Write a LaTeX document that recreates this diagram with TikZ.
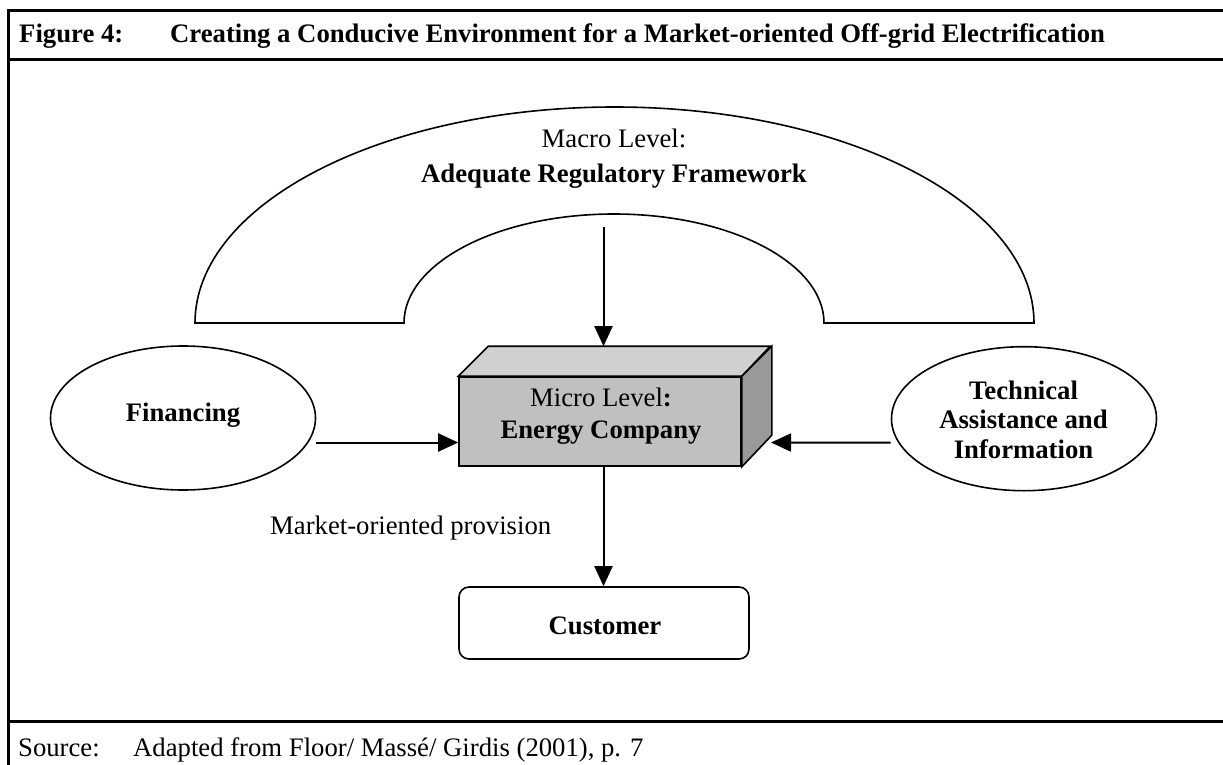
\documentclass[tikz,border=0pt]{standalone}
\usepackage{fontspec}
\setmainfont{Liberation Serif}
\usetikzlibrary{arrows.meta,shapes.geometric}
\definecolor{frontgray}{HTML}{C0C0C0}
\definecolor{topgray}{HTML}{D0D0D0}
\definecolor{sidegray}{HTML}{999999}
\begin{document}
\begin{tikzpicture}[x=1pt,y=-1pt,
  font=\fontsize{26.7}{29.5}\selectfont,
  frameline/.style={line width=3pt},
  shapeline/.style={line width=1.6pt},
  arr/.style={line width=2pt,-{Triangle[length=20pt,width=18pt]}},
  oval/.style={ellipse,draw,line width=1.6pt,minimum width=265pt,minimum height=144pt,inner sep=0pt},
  txt/.style={inner sep=0pt,anchor=base},
  txtw/.style={inner sep=0pt,anchor=base west},
  frontbox/.style={rectangle,draw,line width=1.6pt,fill=frontgray,minimum width=282pt,minimum height=89pt,inner sep=0pt},
  custbox/.style={rectangle,rounded corners=10pt,draw,line width=1.6pt,minimum width=290pt,minimum height=72pt,inner sep=0pt}
]
\useasboundingbox (0,0) rectangle (1223,765);
% frame
\draw[frameline] (1223,11) -- (8,11) -- (8,765);
\draw[frameline] (8,60) -- (1223,60);
\draw[frameline] (8,721) -- (1223,721);
\node[txtw,font=\fontsize{26.7}{29.5}\selectfont\bfseries] (fignum) at (19,43) {Figure 4:};
\node[txtw,font=\fontsize{26.7}{29.5}\selectfont\bfseries] (figtitle) at (170,43) {Creating a Conducive Environment for a Market-oriented Off-grid Electrification};
\node[txtw] (srclabel) at (18,756) {Source:};
\node[txtw] (srctext) at (133,756) {Adapted from Floor/ Massé/ Girdis (2001), p. 7};
% macro arch
\draw[shapeline] (195,323) arc[start angle=180,end angle=0,x radius=419.5pt,y radius=216pt]
  -- (824,323) arc[start angle=0,end angle=180,x radius=210pt,y radius=109pt] -- cycle;
\node[txt] (macro1) at (614,147) {Macro Level:};
\node[txt,font=\fontsize{26.7}{29.5}\selectfont\bfseries] (macro2) at (614,182) {Adequate Regulatory Framework};
\coordinate (macrosrc) at (603.5,227);
% energy company cuboid
\node[frontbox] (company) at (600,421.5) {};
\draw[shapeline,fill=topgray] (company.north west) -- ++(30,-30) -- ++(282,0) -- (company.north east) -- cycle;
\draw[shapeline,fill=sidegray] (company.north east) -- ++(30,-30) -- ++(0,89) -- (company.south east) -- cycle;
\node[txt] (micro1) at (601,406) {Micro Level\textbf{:}};
\node[txt,font=\fontsize{26.7}{29.5}\selectfont\bfseries] (micro2) at (601,438) {Energy Company};
\coordinate (boxtop) at ([xshift=3.5pt,yshift=30pt]company.north);
\coordinate (boxright) at (771,442.5);
% side ellipses
\node[oval] (fin) at (183,418) {};
\node[txt,font=\fontsize{26.7}{29.5}\selectfont\bfseries] (fintext) at (183,421) {Financing};
\node[oval] (tech) at (1024,418.7) {};
\node[txt,font=\fontsize{26.7}{29.5}\selectfont\bfseries] (tech1) at (1023.5,399.3) {Technical};
\node[txt,font=\fontsize{26.7}{29.5}\selectfont\bfseries] (tech2) at (1023.5,428.3) {Assistance and};
\node[txt,font=\fontsize{26.7}{29.5}\selectfont\bfseries] (tech3) at (1023.5,458.3) {Information};
% customer
\node[custbox] (cust) at (604,623) {};
\node[txt,font=\fontsize{26.7}{29.5}\selectfont\bfseries] (custtext) at (605,634) {Customer};
\node[txtw] (provision) at (270,534) {Market-oriented provision};
% connectors
\draw[arr] (macrosrc) -- (boxtop);
\draw[arr] ([yshift=-24.5pt]fin.east) -- ([yshift=-21pt]company.west);
\draw[arr] ([yshift=-24pt]tech.west) -- (boxright);
\draw[arr] ([xshift=3.5pt]company.south) -- ([xshift=-0.5pt]cust.north);
\end{tikzpicture}
\end{document}
